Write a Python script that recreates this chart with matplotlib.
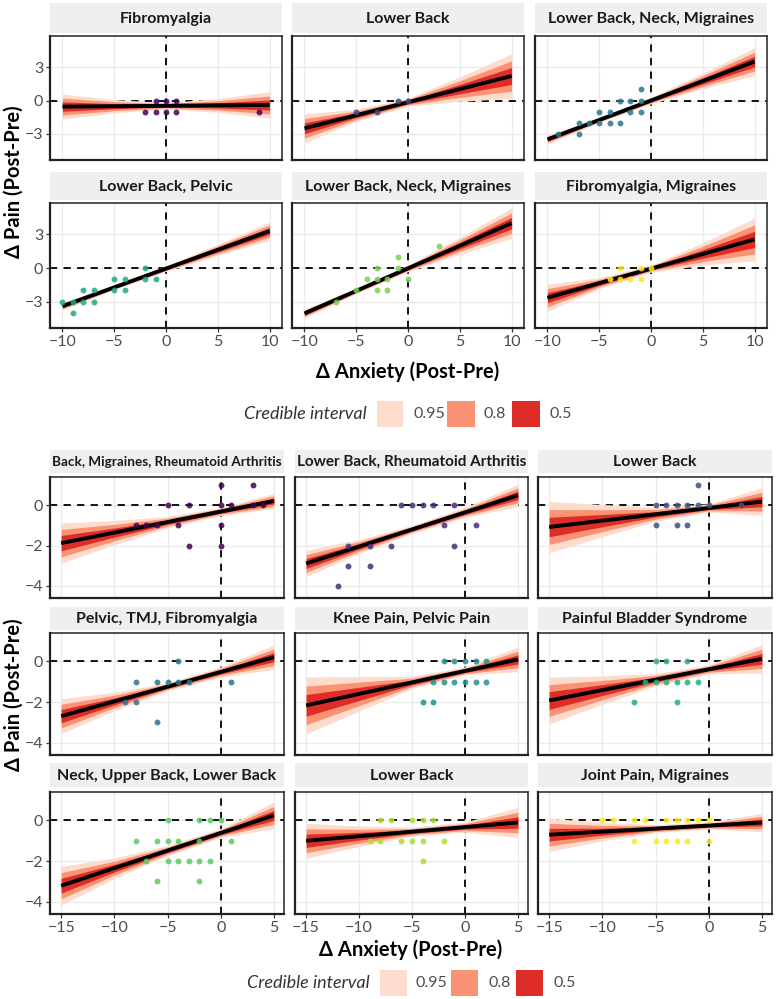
import numpy as np
import matplotlib
matplotlib.use('Agg')
import matplotlib.pyplot as plt
from matplotlib.patches import Rectangle

# ---------------- data ----------------
# Top block (x from -10 to 10)
top_titles = ["Fibromyalgia", "Lower Back", "Lower Back, Neck, Migraines",
              "Lower Back, Pelvic", "Lower Back, Neck, Migraines", "Fibromyalgia, Migraines"]
top_px = [
    [-1, 0, 1, -2, -1, 0, 1, 9],
    [-5, -3, -1, 0],
    [-9, -7, -7, -6, -5, -5, -4, -4, -3, -3, -2, -2, -1, -1, -1],
    [-10, -9, -9, -8, -8, -7, -7, -5, -5, -4, -4, -2, -2, -1],
    [-7, -5, -4, -3, -3, -3, -2, -2, -1, -1, 0, 3],
    [-4, -3, -3, -2, -1, -1, 0],
]
top_py = [
    [0, 0, 0, -1, -1, -1, -1, -1],
    [-1, -1, 0, 0],
    [-3, -2, -3, -2, -1, -2, -1, -2, 0, -2, 0, -1, 1, 0, -1],
    [-3, -3, -4, -2, -3, -2, -3, -1, -2, -1, -2, 0, -1, -1],
    [-3, -2, -1, 0, -1, -2, -1, -2, 1, 0, -1, 2],
    [-1, 0, -1, -1, 0, -1, 0],
]
top_line_left = [-0.55, -2.5, -3.5, -3.4, -4.05, -2.65]   # fitted line at x=-10
top_line_right = [-0.4, 2.2, 3.5, 3.3, 4.0, 2.55]          # fitted line at x=10
top_band_x = [-10, -5, 0, 5, 10]
top_hw95 = [
    [1.12, 0.6, 0.28, 0.62, 1.18],
    [1.3, 0.55, 0.35, 1.1, 2.0],
    [0.4, 0.22, 0.3, 0.7, 1.25],
    [0.35, 0.2, 0.25, 0.5, 0.8],
    [0.4, 0.25, 0.3, 0.75, 1.35],
    [1.2, 0.5, 0.3, 1.0, 1.9],
]

# Bottom block (x from -15 to 5)
bot_titles = ["Back, Migraines, Rheumatoid Arthritis", "Lower Back, Rheumatoid Arthritis", "Lower Back",
              "Pelvic, TMJ, Fibromyalgia", "Knee Pain, Pelvic Pain", "Painful Bladder Syndrome",
              "Neck, Upper Back, Lower Back", "Lower Back", "Joint Pain, Migraines"]
bot_px = [
    [-8, -7, -6, -5, -4, -3, -3, 0, 0, 0, 0, 1, 3, 3, 4],
    [-12, -11, -11, -9, -9, -7, -6, -5, -4, -3, -2, -1, -1, 1],
    [-5, -4, -3, -2, -1, -1, 0, 3, -5, -3, -2],
    [-9, -8, -8, -6, -6, -5, -4, -4, -3, 1],
    [-4, -3, -3, -2, -2, -1, -1, 0, 0, 1, 1, 2, 2],
    [-7, -6, -5, -5, -4, -4, -3, -3, -2, -2, -1],
    [-8, -7, -6, -6, -5, -5, -5, -4, -4, -3, -2, -2, -2, -2, -1, -1, 0, 1],
    [-8, -7, -5, -4, -3, -9, -8, -6, -5, -4, -2, -4],
    [-10, -9, -7, -6, -4, -3, -2, -1, 0, -7, -5, -4, -3, -2, 0],
]
bot_py = [
    [-1, -1, -1, 0, -1, 0, -2, 1, 0, -1, -2, 0, 1, 0, 0],
    [-4, -2, -3, -2, -3, -2, 0, 0, 0, 0, -1, 0, -2, -1],
    [0, 0, 0, 0, 1, 0, 0, 0, -1, -1, -1],
    [-2, -1, -2, -1, -3, -1, 0, -1, -1, -1],
    [-2, -2, -1, 0, -1, 0, -1, 0, -1, 0, -1, 0, -1],
    [-2, -1, 0, -1, 0, -1, -1, -2, 0, -1, -1],
    [-1, -2, -1, -3, 0, -1, -2, -1, -2, -2, 0, -1, -2, -3, 0, -2, 0, -1],
    [0, 0, 0, 0, 0, -1, -1, -1, -1, -1, -1, -2],
    [0, 0, 0, 0, 0, 0, 0, 0, 0, -1, -1, -1, -1, -1, -1],
]
bot_line_left = [-1.88, -2.89, -1.08, -2.69, -2.16, -1.92, -3.21, -1.0, -0.7]   # at x=-15
bot_line_right = [0.21, 0.49, 0.18, 0.21, 0.1, 0.13, 0.25, -0.1, -0.1]         # at x=5
bot_band_x = [-15, -10, -5, 0, 5]
bot_hw95 = [
    [1.0, 0.6, 0.28, 0.2, 0.38],
    [0.65, 0.35, 0.2, 0.25, 0.55],
    [1.27, 0.8, 0.35, 0.2, 0.68],
    [0.86, 0.45, 0.2, 0.25, 0.6],
    [1.4, 0.85, 0.3, 0.2, 0.6],
    [1.15, 0.7, 0.3, 0.22, 0.7],
    [0.95, 0.5, 0.25, 0.22, 0.65],
    [0.86, 0.5, 0.22, 0.25, 0.74],
    [0.82, 0.45, 0.2, 0.17, 0.45],
]

ci_levels = ["0.95", "0.8", "0.5"]
ci_scale = [1.0, 0.68, 0.38]
ci_colors = ["#FDDCCE", "#FA9374", "#DE2D26"]

# ---------------- figure ----------------
W, H = 777, 999
FAM = ['Lato', 'DejaVu Sans']
plt.rcParams['font.family'] = FAM
fig = plt.figure(figsize=(W / 100, H / 100), dpi=100)
fig.patch.set_facecolor('white')
renderer = fig.canvas.get_renderer()


def fax(x0, yt, x1, yb):
    return fig.add_axes([x0 / W, 1 - yb / H, (x1 - x0) / W, (yb - yt) / H])


def fit_text(t, maxw):
    size = t.get_fontsize()
    while t.get_window_extent(renderer).width > maxw and size > 6:
        size -= 0.25
        t.set_fontsize(size)


def draw_panel(rect, strip, title, xs, ys, yl, yr, bx, hw, color, xlim, ylim,
               xticks, yticks, show_x, show_y, xa, xb):
    s = fax(strip[0], strip[1], strip[2], strip[3])
    s.set_facecolor('#EFEFEF')
    s.set_xticks([]); s.set_yticks([])
    for sp in s.spines.values():
        sp.set_visible(False)
    t = s.text(0.5, 0.47, title, ha='center', va='center', fontsize=11.5,
               fontweight='bold', color='#1A1A1A', transform=s.transAxes)
    fit_text(t, strip[2] - strip[0] - 2)

    ax = fax(*rect)
    ax.set_xlim(*xlim); ax.set_ylim(*ylim)
    ax.set_xticks(xticks); ax.set_yticks(yticks)
    ax.grid(True, color='#EBEBEB', lw=1.0, zorder=0)
    ax.set_axisbelow(True)
    ax.axhline(0, color='black', ls=(0, (4, 3.5)), lw=1.3, zorder=1)
    ax.axvline(0, color='black', ls=(0, (4, 3.5)), lw=1.3, zorder=1)
    bx = np.array(bx, float)
    center = yl + (yr - yl) * (bx - xa) / (xb - xa)
    hw = np.array(hw, float)
    for sc, col in zip(ci_scale, ci_colors):
        ax.fill_between(bx, center - hw * sc, center + hw * sc, color=col, lw=0, zorder=2)
    ax.plot([xa, xb], [yl, yr], color='black', lw=2.8, solid_capstyle='butt', zorder=3)
    ax.scatter(xs, ys, s=18, color=color, alpha=0.85, lw=0, zorder=4)
    for k, sp in ax.spines.items():
        sp.set_color('#222222')
        sp.set_linewidth(1.6 if k in ('left', 'bottom') else 1.1)
    ax.tick_params(length=3, width=0.9, color='#333333', labelsize=11.5,
                   labelcolor='#4D4D4D', pad=2)
    if not show_x:
        ax.tick_params(axis='x', labelbottom=False, length=0)
    if not show_y:
        ax.tick_params(axis='y', labelleft=False, length=0)
    return ax


vir6 = plt.get_cmap('viridis')(np.linspace(0, 1, 6))
vir9 = plt.get_cmap('viridis')(np.linspace(0, 1, 9))

top_cols = [(50, 282), (292, 524), (535, 767)]
top_rows = [((36, 160), (3, 33)), ((203, 328), (172, 200))]
for i in range(6):
    r, c = divmod(i, 3)
    (pt, pb), (st, sb) = top_rows[r]
    x0, x1 = top_cols[c]
    draw_panel((x0, pt, x1, pb), (x0, st, x1, sb), top_titles[i], top_px[i], top_py[i],
               top_line_left[i], top_line_right[i], top_band_x, top_hw95[i], vir6[i],
               (-11.2, 11.2), (-5.35, 5.8), [-10, -5, 0, 5, 10], [-3, 0, 3],
               r == 1, c == 0, -10, 10)

bot_cols = [(50, 284), (295, 528), (538, 772)]
bot_rows = [((477, 598), (450, 473)), ((633, 755), (607, 630)), ((792, 914), (763, 787))]
for i in range(9):
    r, c = divmod(i, 3)
    (pt, pb), (st, sb) = bot_rows[r]
    x0, x1 = bot_cols[c]
    draw_panel((x0, pt, x1, pb), (x0, st, x1, sb), bot_titles[i], bot_px[i], bot_py[i],
               bot_line_left[i], bot_line_right[i], bot_band_x, bot_hw95[i], vir9[i],
               (-16.05, 5.95), (-4.6, 1.4), [-15, -10, -5, 0, 5], [-4, -2, 0],
               r == 2, c == 0, -15, 5)

# axis titles
for (xc, yc) in [(408, 372), (411, 950)]:
    fig.text(xc / W, 1 - yc / H, "Δ Anxiety (Post-Pre)", ha='center', va='center',
             fontsize=14.5, fontweight='bold', color='black')
for yc in [182, 695]:
    fig.text(14 / W, 1 - yc / H, "Δ Pain (Post-Pre)", ha='center', va='center',
             rotation=90, fontsize=14.5, fontweight='bold', color='black')


# legends
def legend(title_right, yc, boxes, labels_x):
    fig.text(title_right / W, 1 - yc / H, "Credible interval", ha='right', va='center',
             fontsize=13, fontstyle='italic', color='#333333')
    for (bx0, bx1), lx, lab, col in zip(boxes, labels_x, ci_levels, ci_colors):
        fig.patches.append(Rectangle((bx0 / W, 1 - (yc + 13) / H), (bx1 - bx0) / W, 26 / H,
                                     transform=fig.transFigure, facecolor=col, edgecolor='none'))
        fig.text(lx / W, 1 - yc / H, lab, ha='left', va='center', fontsize=11.5,
                 color='#4D4D4D')


legend(367, 414, [(377, 403), (447, 475), (512, 540)], [413, 483, 549])
legend(370, 983, [(380, 407), (451, 478), (516, 543)], [416, 488, 553])

fig.savefig('out.png', dpi=100, facecolor='white')
